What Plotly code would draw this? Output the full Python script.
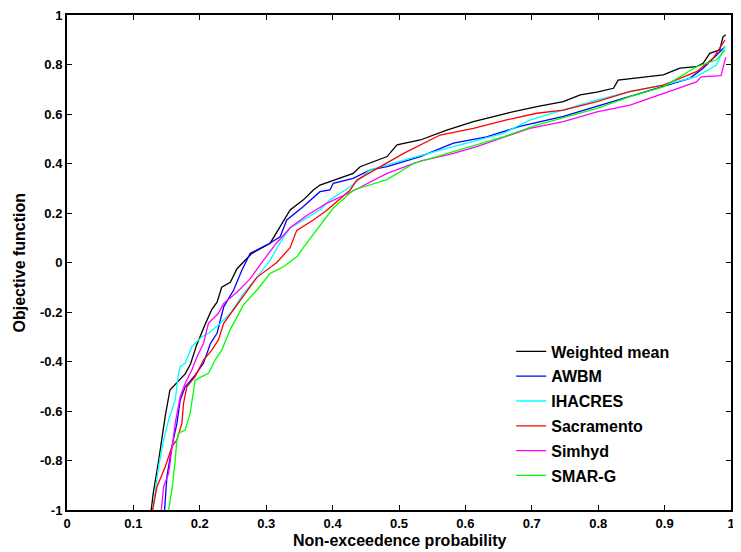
import plotly.graph_objects as go

# ---------------- data ----------------
series_names = ["Weighted mean", "AWBM", "IHACRES", "Sacramento", "Simhyd", "SMAR-G"]

x_wm = [0.126, 0.130, 0.138, 0.148, 0.155, 0.1655, 0.178, 0.186, 0.195, 0.208, 0.218, 0.226,
        0.233, 0.246, 0.256, 0.2785, 0.306, 0.321, 0.336, 0.356, 0.371, 0.381, 0.396, 0.431,
        0.4415, 0.482, 0.497, 0.532, 0.572, 0.612, 0.662, 0.7075, 0.7475, 0.773, 0.798, 0.823,
        0.830, 0.873, 0.898, 0.923, 0.948, 0.958, 0.968, 0.983, 0.988, 0.992]
y_wm = [-1.02, -0.93, -0.80, -0.62, -0.515, -0.485, -0.45, -0.41, -0.335, -0.25, -0.19, -0.16,
        -0.10, -0.08, -0.025, 0.037, 0.078, 0.145, 0.212, 0.253, 0.293, 0.313, 0.327, 0.360,
        0.387, 0.428, 0.475, 0.495, 0.535, 0.569, 0.603, 0.630, 0.650, 0.677, 0.688, 0.704,
        0.737, 0.751, 0.758, 0.785, 0.791, 0.805, 0.845, 0.859, 0.912, 0.92]

x_awbm = [0.147, 0.1505, 0.158, 0.1655, 0.1705, 0.178, 0.193, 0.2055, 0.216, 0.226, 0.236, 0.251,
          0.2635, 0.276, 0.301, 0.321, 0.331, 0.356, 0.381, 0.396, 0.401, 0.431, 0.4565, 0.482,
          0.532, 0.582, 0.632, 0.682, 0.7475, 0.798, 0.847, 0.898, 0.938, 0.958, 0.9785, 0.991]
y_awbm = [-1.0, -0.865, -0.744, -0.650, -0.556, -0.502, -0.455, -0.407, -0.327, -0.286, -0.179, -0.111,
          -0.030, 0.037, 0.071, 0.104, 0.172, 0.226, 0.286, 0.293, 0.320, 0.340, 0.374, 0.387,
          0.428, 0.482, 0.508, 0.55, 0.59, 0.630, 0.670, 0.710, 0.744, 0.785, 0.838, 0.872]

x_ihac = [0.129, 0.138, 0.1455, 0.153, 0.163, 0.168, 0.1705, 0.178, 0.188, 0.203, 0.213, 0.231,
          0.246, 0.266, 0.286, 0.306, 0.321, 0.336, 0.356, 0.381, 0.396, 0.4265, 0.4565, 0.507,
          0.582, 0.657, 0.697, 0.7475, 0.798, 0.848, 0.898, 0.948, 0.978, 0.991]
y_ihac = [-1.0, -0.825, -0.717, -0.636, -0.556, -0.448, -0.421, -0.407, -0.340, -0.300, -0.286, -0.246,
          -0.205, -0.125, -0.06, 0.01, 0.08, 0.14, 0.172, 0.212, 0.253, 0.306, 0.374, 0.414,
          0.468, 0.522, 0.575, 0.615, 0.657, 0.690, 0.717, 0.751, 0.798, 0.875]

x_sac = [0.129, 0.1355, 0.148, 0.158, 0.1655, 0.173, 0.1755, 0.1805, 0.193, 0.2055, 0.218, 0.228,
         0.236, 0.261, 0.286, 0.316, 0.336, 0.346, 0.371, 0.391, 0.4265, 0.4365, 0.472, 0.507,
         0.547, 0.562, 0.612, 0.662, 0.7075, 0.7475, 0.798, 0.847, 0.898, 0.948, 0.973, 0.991]
y_sac = [-1.0, -0.906, -0.825, -0.744, -0.717, -0.650, -0.569, -0.502, -0.461, -0.394, -0.354, -0.313,
         -0.246, -0.152, -0.06, 0.0, 0.06, 0.13, 0.172, 0.21, 0.293, 0.333, 0.387, 0.441,
         0.495, 0.515, 0.542, 0.576, 0.603, 0.616, 0.650, 0.690, 0.717, 0.771, 0.825, 0.899]

x_sim = [0.142, 0.1455, 0.153, 0.158, 0.163, 0.1705, 0.178, 0.188, 0.196, 0.2055, 0.213, 0.228,
         0.236, 0.256, 0.276, 0.296, 0.316, 0.336, 0.361, 0.391, 0.4315, 0.482, 0.532, 0.582,
         0.617, 0.657, 0.697, 0.7475, 0.798, 0.848, 0.898, 0.948, 0.955, 0.985, 0.992]
y_sim = [-1.0, -0.906, -0.852, -0.744, -0.650, -0.542, -0.488, -0.434, -0.380, -0.327, -0.246, -0.205,
         -0.165, -0.12, -0.065, 0.01, 0.08, 0.14, 0.19, 0.239, 0.29, 0.36, 0.41, 0.441,
         0.468, 0.505, 0.542, 0.569, 0.609, 0.636, 0.684, 0.73, 0.75, 0.755, 0.83]

x_smar = [0.153, 0.158, 0.163, 0.1655, 0.168, 0.178, 0.1855, 0.1905, 0.193, 0.203, 0.213, 0.223,
          0.233, 0.246, 0.266, 0.286, 0.306, 0.326, 0.346, 0.361, 0.381, 0.401, 0.4315, 0.482,
          0.522, 0.557, 0.607, 0.657, 0.7075, 0.753, 0.798, 0.848, 0.898, 0.948, 0.978, 0.991]
y_smar = [-1.0, -0.919, -0.798, -0.717, -0.690, -0.677, -0.609, -0.529, -0.475, -0.461, -0.448, -0.394,
          -0.354, -0.27, -0.17, -0.111, -0.044, -0.017, 0.023, 0.078, 0.15, 0.22, 0.293, 0.335,
          0.40, 0.428, 0.468, 0.508, 0.555, 0.589, 0.623, 0.670, 0.710, 0.791, 0.818, 0.859]

x_tickvals = [0, 0.1, 0.2, 0.3, 0.4, 0.5, 0.6, 0.7, 0.8, 0.9, 1]
x_ticktext = ["0", "0.1", "0.2", "0.3", "0.4", "0.5", "0.6", "0.7", "0.8", "0.9", "1"]
y_tickvals = [-1, -0.8, -0.6, -0.4, -0.2, 0, 0.2, 0.4, 0.6, 0.8, 1]
y_ticktext = ["-1", "-0.8", "-0.6", "-0.4", "-0.2", "0", "0.2", "0.4", "0.6", "0.8", "1"]

x_title = "Non-exceedence probability"
y_title = "Objective function"

# ---------------- figure ----------------
xs = [x_wm, x_awbm, x_ihac, x_sac, x_sim, x_smar]
ys = [y_wm, y_awbm, y_ihac, y_sac, y_sim, y_smar]
colors = ["#000000", "#0000ff", "#00ffff", "#ff0000", "#ff00ff", "#00ff00"]

FONT = "Liberation Sans, Arial, sans-serif"

fig = go.Figure()
for name, xv, yv, c in zip(series_names, xs, ys, colors):
    fig.add_trace(go.Scatter(x=xv, y=yv, mode="lines", name=name, legendgroup=name,
                             line=dict(color=c, width=1.3)))

axis_common = dict(showline=True, linecolor="black", linewidth=2, mirror="ticks",
                   ticks="inside", ticklen=5, tickwidth=1.3, tickcolor="black",
                   showgrid=False, zeroline=False, automargin=False,
                   ticklabeloverflow="allow",
                   tickfont=dict(family=FONT, size=13, color="black", weight="bold"))

title_font = dict(family=FONT, size=16, color="black", weight="bold")

# the page body adds an 8px offset; the figure is sized so that it still fills 741x552
fig.update_layout(
    width=733, height=544,
    margin=dict(l=59, r=10, t=7, b=42),
    paper_bgcolor="white", plot_bgcolor="white",
    showlegend=True,
    legend=dict(x=0.669, y=0.3545, xanchor="left", yanchor="top",
                bgcolor="rgba(0,0,0,0)", borderwidth=0, tracegroupgap=1,
                font=dict(family=FONT, size=16, color="black", weight="bold")),
    xaxis=dict(range=[0, 1], tickvals=x_tickvals, ticktext=x_ticktext, **axis_common),
    yaxis=dict(range=[-1, 1], tickvals=y_tickvals, ticktext=y_ticktext, **axis_common),
    annotations=[
        dict(text=x_title, xref="paper", yref="paper", x=0.5, y=-0.0626,
             xanchor="center", yanchor="middle", showarrow=False, font=title_font),
        dict(text=y_title, xref="paper", yref="paper", x=-0.0708, y=0.5,
             xanchor="center", yanchor="middle", textangle=-90, showarrow=False, font=title_font),
    ],
)

fig.write_html("out.html")
